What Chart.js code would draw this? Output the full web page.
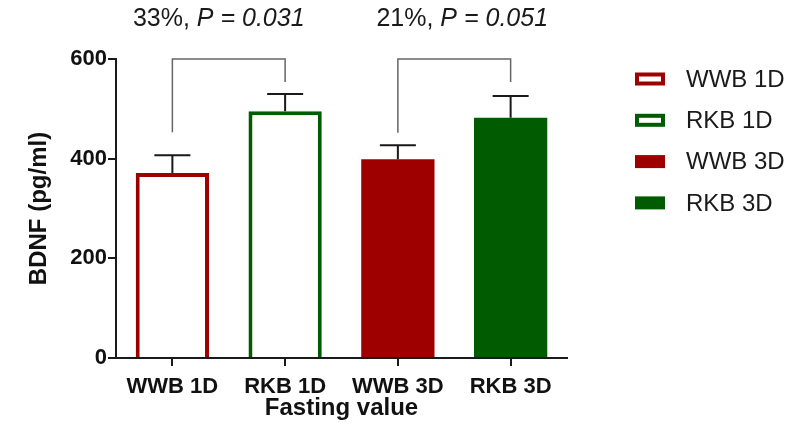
<!DOCTYPE html>
<html>
<head>
<meta charset="utf-8">
<script src="https://cdn.jsdelivr.net/npm/chart.js@4.4.1/dist/chart.umd.min.js"></script>
<style>
  html, body { margin: 0; padding: 0; background: #fff; }
  #wrap { width: 796px; height: 433px; }
</style>
</head>
<body>
<div id="wrap"><canvas id="bdnfChart"></canvas></div>
<script>
// data
const groups = ["WWB 1D", "RKB 1D", "WWB 3D", "RKB 3D"];
const means = [371, 495, 399, 482];
const sems = [36, 35, 28, 44];
const yTicks = [0, 200, 400, 600];
const compPairs = [[0, 1], [2, 3]];
const compPercent = ["33%, ", "21%, "];
const compP = ["P = 0.031", "P = 0.051"];
const bracketTop = 600;
const bracketLegEnds = [[453, 554], [452, 554]];

const RED = "#9e0000";
const GREEN = "#015b01";
const fillColors = ["#ffffff", "#ffffff", RED, GREEN];
const lineColors = [RED, GREEN, RED, GREEN];
const lineWidths = [4, 4, 0, 0];
const FONT = "'Liberation Sans', Arial, sans-serif";

const errorBars = {
  id: "errorBars",
  afterDatasetsDraw(chart) {
    const { ctx, scales: { y } } = chart;
    const meta = chart.getDatasetMeta(0);
    ctx.save();
    ctx.strokeStyle = "#1a1a1a";
    ctx.lineWidth = 2;
    meta.data.forEach((bar, i) => {
      const top = y.getPixelForValue(means[i] + sems[i]);
      ctx.beginPath();
      ctx.moveTo(bar.x, bar.y);
      ctx.lineTo(bar.x, top);
      ctx.moveTo(bar.x - 18, top);
      ctx.lineTo(bar.x + 18, top);
      ctx.stroke();
    });
    ctx.restore();
  }
};

const brackets = {
  id: "brackets",
  afterDraw(chart) {
    const { ctx, scales: { x, y } } = chart;
    const textShift = [-10, 8];
    ctx.save();
    compPairs.forEach((pair, k) => {
      const x1 = x.getPixelForValue(pair[0]);
      const x2 = x.getPixelForValue(pair[1]);
      const yt = y.getPixelForValue(bracketTop);
      ctx.strokeStyle = "#666";
      ctx.lineWidth = 1.5;
      ctx.beginPath();
      ctx.moveTo(x1, y.getPixelForValue(bracketLegEnds[k][0]));
      ctx.lineTo(x1, yt);
      ctx.lineTo(x2, yt);
      ctx.lineTo(x2, y.getPixelForValue(bracketLegEnds[k][1]));
      ctx.stroke();

      // label: percent upright, P value italic
      ctx.fillStyle = "#1a1a1a";
      ctx.textBaseline = "middle";
      ctx.font = "25px " + FONT;
      const w1 = ctx.measureText(compPercent[k]).width;
      ctx.font = "italic 25px " + FONT;
      const w2 = ctx.measureText(compP[k]).width;
      let sx = (x1 + x2) / 2 + textShift[k] - (w1 + w2) / 2;
      ctx.font = "25px " + FONT;
      ctx.fillText(compPercent[k], sx, 19);
      ctx.font = "italic 25px " + FONT;
      ctx.fillText(compP[k], sx + w1, 19);
    });
    ctx.restore();
  }
};

const sideLegend = {
  id: "sideLegend",
  afterDraw(chart) {
    const { ctx } = chart;
    ctx.save();
    groups.forEach((g, i) => {
      const cy = 79 + i * 41.3;
      const bx = 635, bw = 30, bh = 13;
      if (lineWidths[i] > 0) {
        ctx.strokeStyle = lineColors[i];
        ctx.lineWidth = 4;
        ctx.strokeRect(bx + 2, cy - bh / 2 + 2, bw - 4, bh - 4);
      } else {
        ctx.fillStyle = fillColors[i];
        ctx.fillRect(bx, cy - bh / 2, bw, bh);
      }
      ctx.fillStyle = "#1a1a1a";
      ctx.font = "24px " + FONT;
      ctx.textBaseline = "middle";
      ctx.fillText(g, 686, cy + 1);
    });
    ctx.restore();
  }
};

const ctx = document.getElementById("bdnfChart").getContext("2d");
const chart = new Chart(ctx, {
  type: "bar",
  data: {
    labels: groups,
    datasets: [{
      label: "BDNF",
      data: means,
      backgroundColor: fillColors,
      borderColor: lineColors,
      borderWidth: lineWidths,
      borderSkipped: "bottom",
      barPercentage: 1,
      categoryPercentage: 0.65
    }]
  },
  options: {
    responsive: true,
    maintainAspectRatio: false,
    animation: false,
    layout: { padding: { top: 59, right: 229, left: 1, bottom: 0 } },
    plugins: {
      legend: { display: false },
      tooltip: { enabled: false }
    },
    scales: {
      x: {
        afterFit: (s) => { s.height = 75; },
        grid: {
          offset: false,
          drawOnChartArea: false,
          drawTicks: true,
          tickLength: 8,
          color: "#1a1a1a",
          lineWidth: 2
        },
        border: { color: "#1a1a1a", width: 2 },
        ticks: {
          color: "#111",
          padding: 8,
          font: { family: FONT, size: 22, weight: "bold" }
        },
        title: {
          display: true,
          text: "Fasting value",
          color: "#111",
          padding: { top: 0, bottom: 10 },
          font: { family: FONT, size: 24, weight: "bold" }
        }
      },
      y: {
        min: 0,
        max: 600,
        afterFit: (s) => { s.width = 115; },
        afterBuildTicks: (s) => { s.ticks = yTicks.map(v => ({ value: v })); },
        grid: {
          drawOnChartArea: false,
          drawTicks: true,
          tickLength: 8,
          color: "#1a1a1a",
          lineWidth: 2
        },
        border: { color: "#1a1a1a", width: 2 },
        ticks: {
          color: "#111",
          padding: 1,
          font: { family: FONT, size: 22, weight: "bold" }
        },
        title: {
          display: true,
          text: "BDNF (pg/ml)",
          color: "#111",
          padding: { top: 24, bottom: 0 },
          font: { family: FONT, size: 24, weight: "bold" }
        }
      }
    }
  },
  plugins: [errorBars, brackets, sideLegend]
});
</script>
</body>
</html>
